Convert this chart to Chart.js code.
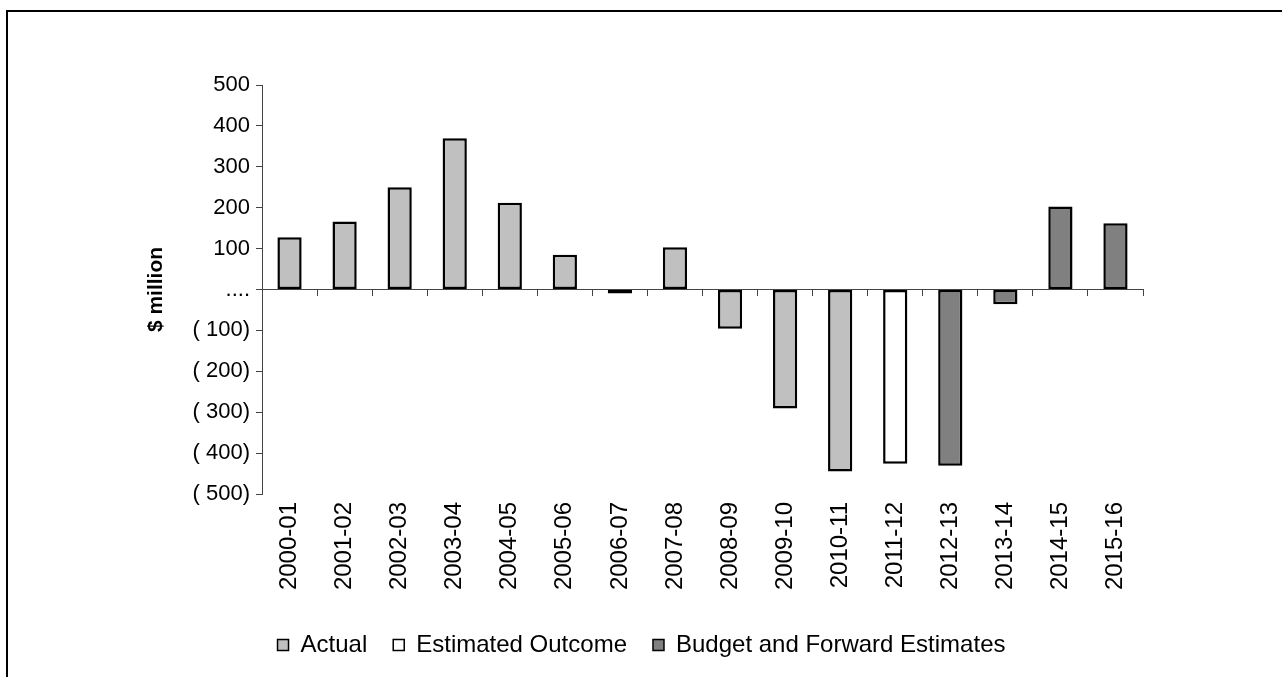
<!DOCTYPE html>
<html>
<head>
<meta charset="utf-8" />
<title>$ million</title>
<script src="https://cdn.jsdelivr.net/npm/chart.js@4.4.1/dist/chart.umd.min.js"></script>
<style>
  html, body { margin: 0; padding: 0; background: #fff; overflow: hidden; }
  #frame {
    position: absolute; left: 6px; top: 10px;
    width: 1400px; height: 800px;
    border-top: 2px solid #000; border-left: 2px solid #000;
  }
  #myChart { position: absolute; left: 0; top: 0; }
</style>
</head>
<body>

<div id="frame"></div>
<canvas id="myChart" width="1282" height="677"></canvas>

<script>
// years on the x axis
const years = ['2000-01', '2001-02', '2002-03', '2003-04', '2004-05', '2005-06', '2006-07', '2007-08',
               '2008-09', '2009-10', '2010-11', '2011-12', '2012-13', '2013-14', '2014-15', '2015-16'];

// $ million
const actual    = [128, 166, 250, 370, 212, 85, -10, 103, -96, -291, -445, null, null, null, null, null];
const estimated = [null, null, null, null, null, null, null, null, null, null, null, -426, null, null, null, null];
const budget    = [null, null, null, null, null, null, null, null, null, null, null, null, -431, -36, 203, 162];

const yMin = -500, yMax = 500, yStep = 100;

function yLabel(v) {
  if (v == 0) return '....';
  if (v < 0) return '( ' + Math.abs(v) + ')';
  return '' + v;
}

const font = 'Liberation Sans, Arial, sans-serif';
const axisColor = '#444';

const ctx = document.getElementById('myChart');
const myChart = new Chart(ctx, {
  type: 'bar',
  data: {
    labels: years,
    datasets: [
      { label: 'Actual', data: actual, backgroundColor: '#c0c0c0' },
      { label: 'Estimated Outcome', data: estimated, backgroundColor: '#ffffff' },
      { label: 'Budget and Forward Estimates', data: budget, backgroundColor: '#808080' }
    ]
  },
  options: {
    responsive: false,
    animation: false,
    layout: { padding: { left: 140, right: 139, top: 85, bottom: 10 } },
    datasets: {
      bar: { barPercentage: 0.44, categoryPercentage: 1.0, borderColor: '#000', borderWidth: 2.5, borderSkipped: false }
    },
    scales: {
      x: {
        stacked: true,
        grid: { display: false, drawTicks: false },
        border: { display: false },
        ticks: { minRotation: 90, maxRotation: 90, padding: 8, color: '#000', font: { family: font, size: 24 } },
        afterFit: function(scale) { scale.height = 113; }
      },
      // zero line with its tick marks between the years
      x2: {
        type: 'category',
        position: { y: 0 },
        offset: true,
        grid: { offset: true, drawOnChartArea: false, tickLength: 6, color: axisColor },
        border: { color: axisColor },
        ticks: { display: false }
      },
      y: {
        stacked: true,
        min: yMin,
        max: yMax,
        grid: { drawOnChartArea: false, tickLength: 6, color: axisColor },
        border: { color: axisColor },
        ticks: {
          stepSize: yStep,
          padding: 6,
          color: '#000',
          font: { family: font, size: 22 },
          callback: function(v) { return yLabel(v); }
        },
        title: { display: true, text: '$ million', color: '#000', font: { family: font, size: 21, weight: 'bold' } },
        afterFit: function(scale) { scale.width = 122; }
      }
    },
    plugins: {
      tooltip: { enabled: false },
      legend: {
        position: 'bottom',
        labels: {
          boxWidth: 11,
          boxHeight: 11,
          padding: 26,
          color: '#000',
          font: { family: font, size: 24 },
          generateLabels: function(chart) {
            const items = Chart.defaults.plugins.legend.labels.generateLabels(chart);
            items.forEach(function(i) { i.lineWidth = 1.5; });
            return items;
          }
        }
      }
    }
  }
});
</script>

</body>
</html>
